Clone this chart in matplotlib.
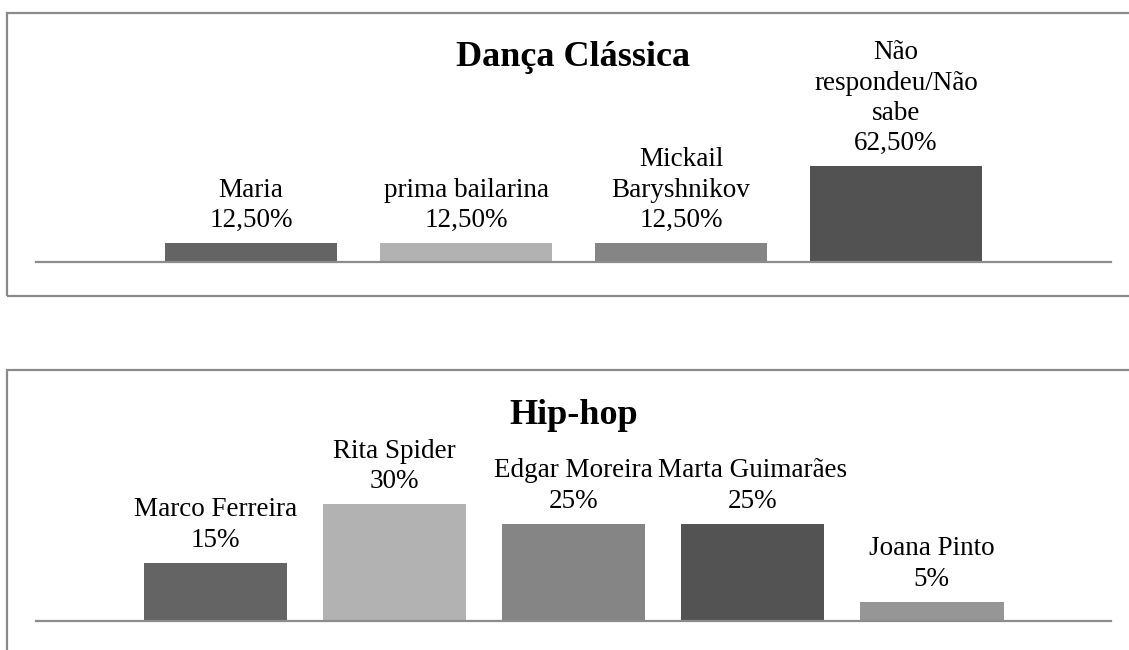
import matplotlib.pyplot as plt
from matplotlib.patches import Rectangle

# Dança Clássica
danca_labels = ["Maria", "prima bailarina", "Mickail\nBaryshnikov", "Não\nrespondeu/Não\nsabe"]
danca_values = [12.5, 12.5, 12.5, 62.5]
danca_colors = ["#646464", "#b2b2b2", "#858585", "#525252"]

# Hip-hop
hiphop_labels = ["Marco Ferreira", "Rita Spider", "Edgar Moreira", "Marta Guimarães", "Joana Pinto"]
hiphop_values = [15, 30, 25, 25, 5]
hiphop_colors = ["#646464", "#b2b2b2", "#858585", "#535353", "#969696"]

W, H = 1129, 650
plt.rcParams["font.family"] = ["Liberation Serif", "DejaVu Serif"]

fig = plt.figure(figsize=(W / 100, H / 100), dpi=100)


def px_axes(left, right, base, top):
    # pixel box (origin top-left) -> figure fractions
    return fig.add_axes([left / W, (H - base) / H, (right - left) / W, (base - top) / H])


def pct(v, decimals):
    if decimals:
        return f"{v:.2f}".replace(".", ",") + "%"
    return f"{v:.0f}%"


def draw_panel(ax, labels, values, colors, title, ymax, decimals, title_y):
    x = list(range(len(values)))
    bars = ax.bar(x, values, width=0.8, color=colors)
    for b, lab, v in zip(bars, labels, values):
        ax.annotate(f"{lab}\n{pct(v, decimals)}", (b.get_x() + b.get_width() / 2, b.get_height()),
                    xytext=(0, 7), textcoords="offset points", ha="center", va="bottom",
                    fontsize=19.5, linespacing=1.28, color="black")
    ax.set_xlim(-1, len(values))
    ax.set_ylim(0, ymax)
    for s in ["top", "right", "left"]:
        ax.spines[s].set_visible(False)
    ax.spines["bottom"].set_color("#8c8c8c")
    ax.spines["bottom"].set_linewidth(1.6)
    ax.set_xticks([])
    ax.set_yticks([])
    ax.patch.set_alpha(0)
    fig.text(0.5 * (36 + 1111) / W, title_y, title, ha="center", va="center",
             fontsize=26, fontweight="bold")


# panel frames
fig.patches.append(Rectangle((7 / W, (H - 296) / H), 1.2, (296 - 13) / H, transform=fig.transFigure,
                             fill=False, edgecolor="#8a8a8a", linewidth=1.6))
fig.patches.append(Rectangle((7 / W, -0.2), 1.2, (H - 370) / H + 0.2, transform=fig.transFigure,
                             fill=False, edgecolor="#8a8a8a", linewidth=1.6))

ax1 = px_axes(36, 1111, 262, 100)
draw_panel(ax1, danca_labels, danca_values, danca_colors, "Dança Clássica",
           62.5 * 162 / 96, True, (H - 57) / H)
ax1.set_xlim(-1, 4)

ax2 = px_axes(36, 1111, 621, 460)
draw_panel(ax2, hiphop_labels, hiphop_values, hiphop_colors, "Hip-hop",
           161 / 3.9, False, (H - 416) / H)

fig.savefig("out.png", dpi=100)
